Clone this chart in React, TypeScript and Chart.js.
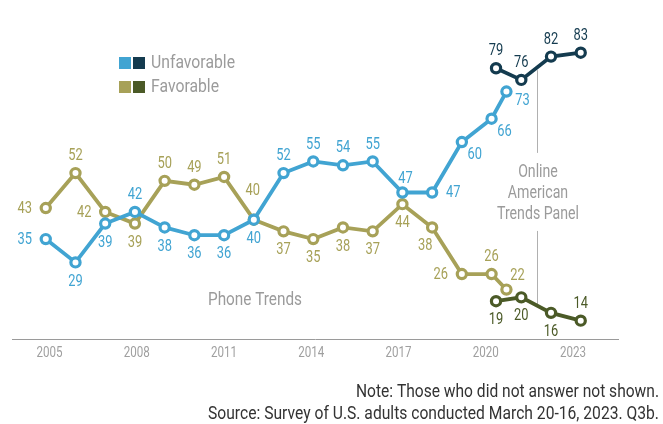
import React, { useEffect, useRef } from "react";
import { Chart, registerables } from "chart.js";

Chart.register(...registerables);

// ---- Data ----
const phoneYears = [2005, 2006, 2007, 2008, 2009, 2010, 2011, 2012, 2013, 2014, 2015, 2016, 2017, 2018, 2019, 2020, 2020.5];
const phoneUnfavorable = [35, 29, 39, 42, 38, 36, 36, 40, 52, 55, 54, 55, 47, 47, 60, 66, 73];
const phoneFavorable = [43, 52, 42, 39, 50, 49, 51, 40, 37, 35, 38, 37, 44, 38, 26, 26, 22];
const atpYears = [2020.15, 2021, 2022, 2023];
const atpUnfavorable = [79, 76, 82, 83];
const atpFavorable = [19, 20, 16, 14];
const tickYears = [2005, 2008, 2011, 2014, 2017, 2020, 2023];

// label placement codes (styling only)
const phoneUnfavPlace = ["l", "b", "b", "a", "b", "b", "b", "b", "a", "a", "a", "a", "ar2", "r", "br", "br", "rr"];
const phoneFavPlace = ["l", "a", "l", "b", "a", "a", "a", "a2", "b", "b", "b", "b", "b", "bl", "l", "a", "ar"];
const atpUnfavPlace = ["a", "a", "a", "a"];
const atpFavPlace = ["b", "b", "b", "a"];

const OFFSETS: Record<string, [number, number]> = {
  a: [0, -17],
  a2: [-1, -29],
  ar: [11, -14],
  ar2: [3, -14],
  b: [0, 19],
  bl: [-7, 18],
  l: [-21, 1],
  r: [21, 0],
  br: [13, 13],
  rr: [16, 9],
};

const FONT = "Roboto, 'Liberation Sans', sans-serif";
const LIGHT_BLUE = "#41a4d2";
const NAVY = "#143b4f";
const OLIVE = "#a7a158";
const DARK_OLIVE = "#4b5a27";
const GRAY = "#9b9b9b";

const toPts = (xs: number[], ys: number[]) => xs.map((x, i) => ({ x, y: ys[i] }));

// condensed text drawing: horizontal squeeze (sx) or fit to a width
function drawText(
  ctx: CanvasRenderingContext2D,
  text: string,
  x: number,
  y: number,
  size: number,
  color: string,
  align: CanvasTextAlign,
  sx: number,
  fitWidth?: number
) {
  ctx.save();
  ctx.font = `${size}px ${FONT}`;
  ctx.fillStyle = color;
  ctx.textAlign = align;
  ctx.textBaseline = "middle";
  let s = sx;
  if (fitWidth) {
    const w = ctx.measureText(text).width;
    if (w > 0) s = fitWidth / w;
  }
  ctx.translate(x, y);
  ctx.scale(s, 1);
  ctx.fillText(text, 0, 0);
  ctx.restore();
  return s;
}

const labelPlugin = {
  id: "pointLabels",
  afterDatasetsDraw(chart: any) {
    const ctx = chart.ctx;
    chart.data.datasets.forEach((ds: any, i: number) => {
      const meta = chart.getDatasetMeta(i);
      meta.data.forEach((el: any, j: number) => {
        const off = OFFSETS[ds.placements[j]] || [0, -17];
        drawText(ctx, String(ds.data[j].y), el.x + off[0], el.y + off[1], 16.5, ds.borderColor, "center", 0.78);
      });
    });
  },
};

const annotationPlugin = {
  id: "annotations",
  beforeDatasetsDraw(chart: any) {
    const ctx = chart.ctx;
    const xs = chart.scales.x;
    const ys = chart.scales.y;
    const dx = Math.round(xs.getPixelForValue(2021.53)) + 0.5;
    ctx.save();
    ctx.strokeStyle = "#b0b0b0";
    ctx.lineWidth = 1;
    ctx.beginPath();
    ctx.moveTo(dx, ys.getPixelForValue(78.5));
    ctx.lineTo(dx, ys.getPixelForValue(57.2));
    ctx.moveTo(dx, ys.getPixelForValue(37.1));
    ctx.lineTo(dx, ys.getPixelForValue(17.9));
    ctx.stroke();
    ctx.restore();
  },
  afterDraw(chart: any) {
    const ctx = chart.ctx;
    // Tick labels
    const x2 = chart.scales.x2;
    tickYears.forEach((v) => {
      drawText(ctx, String(v), x2.getPixelForValue(v), 353, 14.5, "#9f9f9f", "center", 0.8);
    });
    // Legend
    const items = [
      { label: "Unfavorable", c1: LIGHT_BLUE, c2: NAVY, y: 63, w: 84 },
      { label: "Favorable", c1: OLIVE, c2: DARK_OLIVE, y: 87, w: 68 },
    ];
    items.forEach((it) => {
      ctx.fillStyle = it.c1;
      ctx.fillRect(119, it.y - 6, 12, 12);
      ctx.fillStyle = it.c2;
      ctx.fillRect(133, it.y - 6, 12, 12);
      drawText(ctx, it.label, 151, it.y, 18, GRAY, "left", 1, it.w);
    });
    // Panel texts
    const s = drawText(ctx, "Trends Panel", 538, 215, 17.5, GRAY, "center", 1, 82);
    drawText(ctx, "Online", 538, 173, 17.5, GRAY, "center", s);
    drawText(ctx, "American", 538, 194, 17.5, GRAY, "center", s);
    drawText(ctx, "Phone Trends", 255, 301, 17.5, GRAY, "center", 1, 94);
    // Notes
    drawText(ctx, "Note: Those who did not answer not shown.", 659, 393, 17.5, "#333333", "right", 1, 303);
    drawText(ctx, "Source: Survey of U.S. adults conducted March 20-16, 2023. Q3b.", 659, 415, 17.5, "#333333", "right", 1, 451);
  },
};

const lineDs = (label: string, data: any[], color: string, placements: string[]) => ({
  label,
  data,
  placements,
  borderColor: color,
  backgroundColor: "#ffffff",
  borderWidth: 3.8,
  pointRadius: 4.6,
  pointBorderWidth: 3.2,
  pointBackgroundColor: "#ffffff",
  pointBorderColor: color,
  tension: 0,
  xAxisID: "x",
  yAxisID: "y",
});

export default function App() {
  const ref = useRef<HTMLCanvasElement | null>(null);
  useEffect(() => {
    if (!ref.current) return;
    const chart = new Chart(ref.current, {
      type: "line",
      data: {
        datasets: [
          lineDs("Unfavorable (phone)", toPts(phoneYears, phoneUnfavorable), LIGHT_BLUE, phoneUnfavPlace),
          lineDs("Unfavorable (ATP)", toPts(atpYears, atpUnfavorable), NAVY, atpUnfavPlace),
          lineDs("Favorable (phone)", toPts(phoneYears, phoneFavorable), OLIVE, phoneFavPlace),
          lineDs("Favorable (ATP)", toPts(atpYears, atpFavorable), DARK_OLIVE, atpFavPlace),
        ] as any,
      },
      options: {
        animation: false,
        responsive: false,
        maintainAspectRatio: false,
        devicePixelRatio: 1,
        layout: { padding: { left: 12, right: 45, top: 10, bottom: 56 } },
        plugins: { legend: { display: false }, tooltip: { enabled: false } },
        scales: {
          x: { type: "linear", min: 2003.864, max: 2024.254, display: false },
          x2: {
            type: "linear",
            position: "bottom",
            min: 2003.708,
            max: 2024.547,
            afterBuildTicks: (sc: any) => {
              sc.ticks = tickYears.map((v) => ({ value: v }));
            },
            grid: { display: false, drawTicks: false },
            border: { display: true, color: "#9a9a9a", width: 1 },
            ticks: {
              autoSkip: false,
              maxRotation: 0,
              padding: 6,
              color: "rgba(0,0,0,0)",
              font: { family: FONT, size: 14 },
              callback: (v: any) => String(v),
            },
          },
          y: { type: "linear", min: 9.22, max: 94.0, display: false },
        },
      },
      plugins: [labelPlugin, annotationPlugin],
    });
    return () => chart.destroy();
  }, []);
  return (
    <div style={{ position: "absolute", left: 0, top: 0, width: 663, height: 424, background: "#fff" }}>
      <canvas ref={ref} width={663} height={424} style={{ width: 663, height: 424 }} />
    </div>
  );
}
